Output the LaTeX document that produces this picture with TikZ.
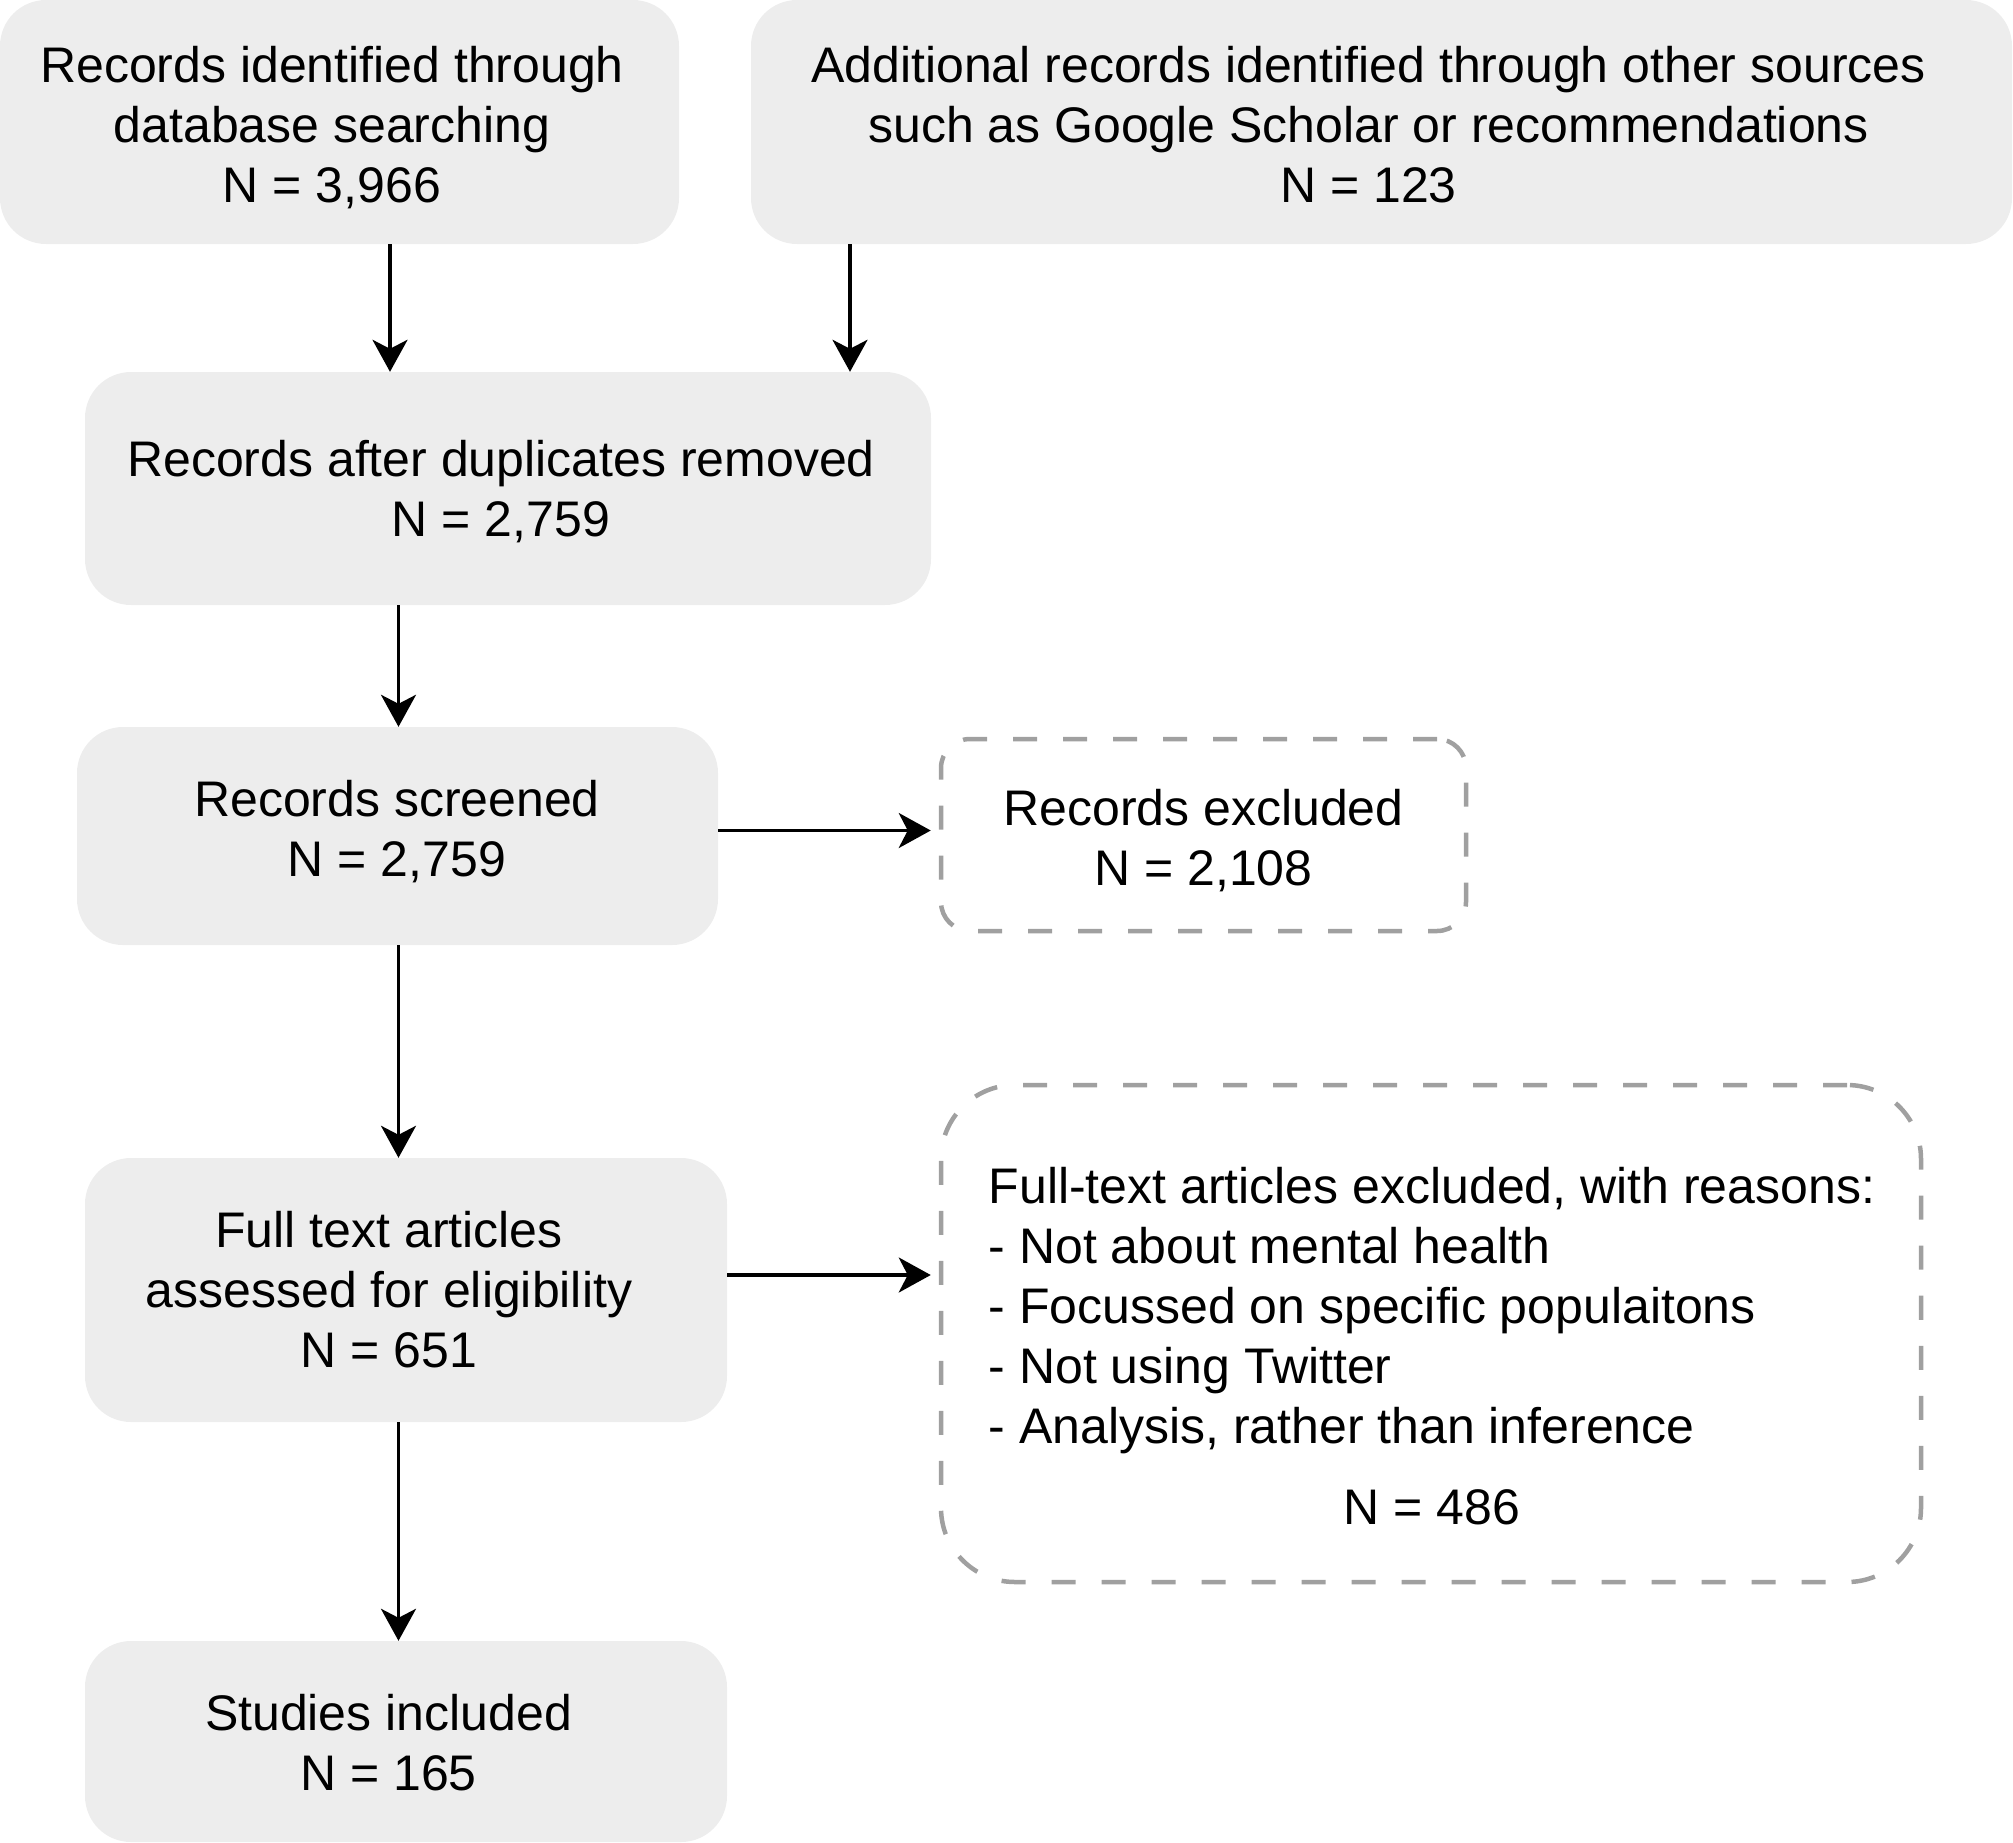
\documentclass[tikz,border=0pt]{standalone}
\usepackage{fontspec}
\setmainfont{Liberation Sans}
\usetikzlibrary{arrows.meta}
\definecolor{boxfill}{RGB}{237,237,237}
\definecolor{dashgray}{RGB}{160,160,160}
\begin{document}
\begin{tikzpicture}[x=1pt,y=-1pt,
  graybox/.style={fill=boxfill, draw=none, rounded corners=46pt, inner sep=0pt},
  dashbox/.style={draw=dashgray, line width=4.5pt, dash pattern=on 24pt off 26pt, inner sep=0pt},
  txt/.style={font=\fontsize{50}{60}\selectfont, align=center, inner sep=0pt},
  arr/.style={line width=3.5pt, -{Stealth[length=32pt,width=35pt,inset=9pt]}}]
\useasboundingbox (0,0) rectangle (2013,1842);

% boxes
\node[graybox, minimum width=679pt, minimum height=244pt] (A) at (339.5,122) {};
\node[graybox, minimum width=1261pt, minimum height=244pt] (B) at (1381.5,122) {};
\node[graybox, minimum width=846pt, minimum height=233pt] (C) at (508,488.5) {};
\node[graybox, minimum width=641pt, minimum height=218pt] (D) at (397.5,836) {};
\node[dashbox, rounded corners=29pt, minimum width=525pt, minimum height=192pt] (E) at (1203.5,835) {};
\node[graybox, minimum width=642pt, minimum height=264pt] (F) at (406,1290) {};
\node[dashbox, rounded corners=74pt, minimum width=980pt, minimum height=497pt] (G) at (1431,1333.5) {};
\node[graybox, minimum width=642pt, minimum height=201pt] (H) at (406,1741.5) {};

% texts
\node[txt] (At) at (332,130) {\strut Records identified through\\ database searching\\ N = 3,966\strut};
\node[txt] (Bt) at (1368.5,130) {\strut Additional records identified through other sources\\ such as Google Scholar or recommendations\\ N = 123\strut};
\node[txt] (Ct) at (501,494.5) {\strut Records after duplicates removed\\ N = 2,759\strut};
\node[txt] (Dt) at (397,834) {\strut Records screened\\ N = 2,759\strut};
\node[txt] (Et) at (1203.5,843.7) {\strut Records excluded\\ N = 2,108\strut};
\node[txt] (Ft) at (389,1295.6) {\strut Full text articles\\ assessed for eligibility\\ N = 651\strut};
\node[txt, anchor=north west, align=left] (Gt) at (988.5,1161) {\begin{tabular}{@{}l@{}}Full-text articles excluded, with reasons:\\ - Not about mental health\\ - Focussed on specific populaitons\\ - Not using Twitter\\ - Analysis, rather than inference\\[21pt] \multicolumn{1}{@{}c@{}}{N = 486}\end{tabular}};
\node[txt] (Ht) at (388.5,1748) {\strut Studies included\\ N = 165\strut};

% connectors
\coordinate (xa) at (390,0);
\coordinate (xb) at (850,0);
\coordinate (xc) at (398.5,0);
\coordinate (ya) at (0,830.5);
\coordinate (yb) at (0,1275);
\draw[arr] (A.south -| xa) -- (C.north -| xa);
\draw[arr] (B.south -| xb) -- (C.north -| xb);
\draw[arr] (C.south -| xc) -- (D.north -| xc);
\draw[arr] (D.south -| xc) -- (F.north -| xc);
\draw[arr] (F.south -| xc) -- (H.north -| xc);
\draw[arr, shorten >=8pt] (D.east |- ya) -- (E.west |- ya);
\draw[arr, shorten >=8pt] (F.east |- yb) -- (G.west |- yb);
\end{tikzpicture}
\end{document}
